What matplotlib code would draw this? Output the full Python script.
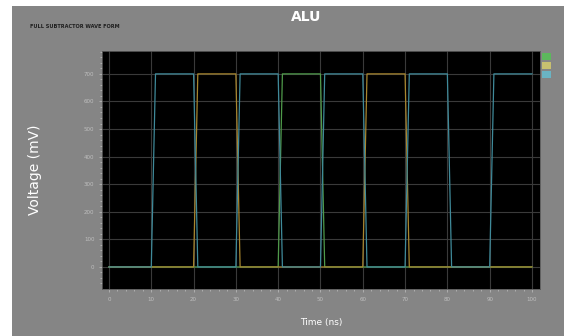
import matplotlib
matplotlib.use("Agg")
import matplotlib.pyplot as plt
from matplotlib.patches import Patch, Rectangle

plt.rcParams.update({
    "font.family": "DejaVu Sans",
    "font.size": 6,
})

# traces (time in ns, voltage in mV); edges take ~1 ns
teal_t = [0, 10, 11, 20, 21, 30, 31, 40, 41, 50, 51, 60, 61, 70, 71, 80, 81, 90, 91, 100]
teal_v = [0, 0, 700, 700, 0, 0, 700, 700, 0, 0, 700, 700, 0, 0, 700, 700, 0, 0, 700, 700]

yellow_t = [0, 20, 21, 30, 31, 60, 61, 70, 71, 100]
yellow_v = [0, 0, 700, 700, 0, 0, 700, 700, 0, 0]

green_t = [0, 40, 41, 50, 51, 100]
green_v = [0, 0, 700, 700, 0, 0]

x_ticks = list(range(0, 101, 10))
y_ticks = list(range(0, 701, 100))

C_GREEN = "#4f9a4a"
C_YELLOW = "#a8862e"
C_TEAL = "#3f8a9a"

fig = plt.figure(figsize=(5.64, 3.36), dpi=100, facecolor="white")
# grey panel behind everything
fig.patches.append(Rectangle((12 / 564, 0), 1 - 12 / 564, 1 - 6 / 336,
                             transform=fig.transFigure, facecolor="#858585",
                             edgecolor="none", zorder=-10))

ax = fig.add_axes([102 / 564, 47 / 336, 438 / 564, 238 / 336])
ax.set_facecolor("black")

ax.plot(green_t, green_v, color=C_GREEN, lw=0.9, zorder=3)
ax.plot(yellow_t, yellow_v, color=C_YELLOW, lw=0.9, zorder=4)
ax.plot(teal_t, teal_v, color=C_TEAL, lw=0.9, zorder=5)

ax.set_xlim(-1.65, 101.9)
ax.set_ylim(-80, 783)
ax.set_xticks(x_ticks)
ax.set_yticks(y_ticks)
ax.set_xticks([x + 2 for x in range(0, 100, 2) if (x + 2) % 10], minor=True)
ax.set_yticks([y for y in range(-60, 781, 20) if y % 100], minor=True)
ax.grid(True, which="major", color="#3a3a3a", lw=0.8)
ax.tick_params(which="both", colors="#bfbfbf", labelsize=4, length=2, width=0.5)
ax.tick_params(which="minor", length=1.2)
for s in ax.spines.values():
    s.set_color("#5a5a5a")
    s.set_linewidth(0.6)

ax.set_xlabel("Time (ns)", color="white", fontsize=6.5, labelpad=12)
ax.set_ylabel("Voltage (mV)", color="white", fontsize=10, labelpad=30)

fig.text(306 / 564, 1 - 17 / 336, "ALU", color="white", fontsize=10,
         fontweight="bold", ha="center", va="center")
fig.text(30 / 564, 1 - 27 / 336, "FULL SUBTRACTOR WAVE FORM", color="#1e1e1e",
         fontsize=3.6, fontweight="bold", ha="left", va="center")

handles = [Patch(facecolor="#5cb85c", edgecolor="none"),
           Patch(facecolor="#c8c070", edgecolor="none"),
           Patch(facecolor="#6ab4c4", edgecolor="none")]
fig.legend(handles=handles, labels=["", "", ""], loc="upper left",
           bbox_to_anchor=(538 / 564, 1 - 48 / 336), frameon=False,
           handlelength=1.0, handleheight=0.9, handletextpad=0,
           labelspacing=0.0, borderpad=0, fontsize=6)

fig.savefig("out.png", dpi=100, facecolor=fig.get_facecolor())
